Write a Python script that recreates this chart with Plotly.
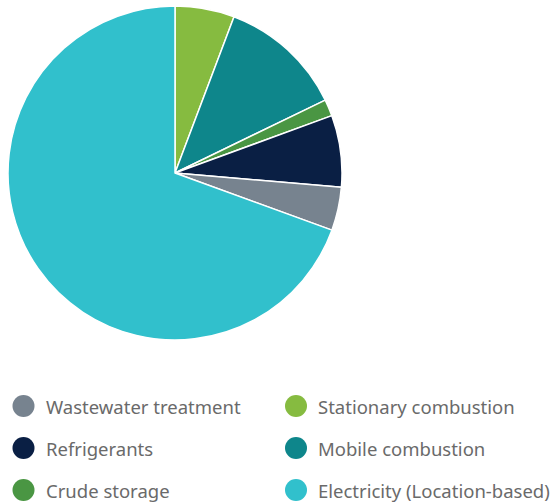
import plotly.graph_objects as go

# Emission sources and their share of the total (%), clockwise from 12 o'clock
labels = ["Stationary combustion", "Mobile combustion", "Crude storage",
          "Refrigerants", "Wastewater treatment", "Electricity (Location-based)"]
shares = [5.75, 12.06, 1.61, 6.93, 4.21, 69.44]
colors = ["#86bb40", "#0e868b", "#4a9643", "#0a1f44", "#77838f", "#31c0cc"]

# Legend layout: two columns, three rows
legend_order = ["Wastewater treatment", "Stationary combustion",
                "Refrigerants", "Mobile combustion",
                "Crude storage", "Electricity (Location-based)"]

W, H = 555, 503

def px(x):
    return x / W

def py(y):
    return 1 - y / H

fig = go.Figure(go.Pie(
    labels=labels,
    values=shares,
    sort=False,
    direction="clockwise",
    rotation=0,
    marker=dict(colors=colors, line=dict(color="white", width=1.5)),
    textinfo="none",
    hoverinfo="label+percent",
    domain=dict(x=[px(8), px(342)], y=[py(340), py(6)]),
    showlegend=False,
))

color_of = dict(zip(labels, colors))
shapes, annotations = [], []
col_x = [23.5, 296]
row_y = [406, 448, 490]
r = 11
for i, name in enumerate(legend_order):
    cx = col_x[i % 2]
    cy = row_y[i // 2]
    shapes.append(dict(type="circle", xref="paper", yref="paper",
                       x0=px(cx - r), x1=px(cx + r), y0=py(cy + r), y1=py(cy - r),
                       fillcolor=color_of[name], line=dict(width=0)))
    annotations.append(dict(text=name, xref="paper", yref="paper",
                            x=px(cx + 20), y=py(cy), xanchor="left", yanchor="middle",
                            showarrow=False,
                            font=dict(family="Noto Sans", size=18.5, color="#6a6a6a")))

fig.update_layout(
    width=W, height=H,
    margin=dict(l=0, r=0, t=0, b=0),
    paper_bgcolor="white", plot_bgcolor="white",
    shapes=shapes, annotations=annotations,
)

fig.write_html("out.html")
